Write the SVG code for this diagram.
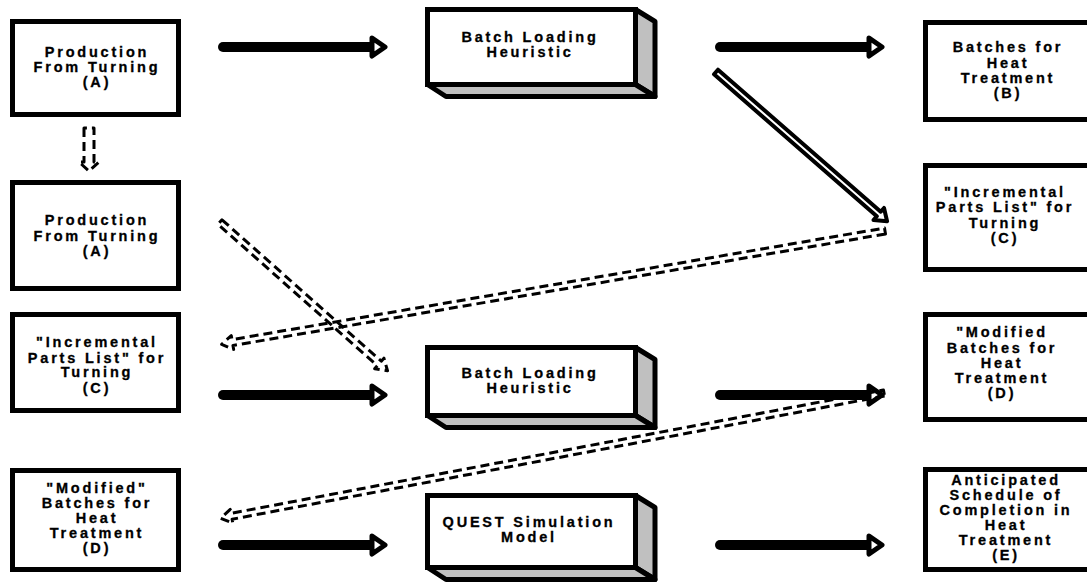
<svg xmlns="http://www.w3.org/2000/svg" width="1087" height="583" viewBox="0 0 1087 583">
  <style>
    .box { fill: #fff; stroke: #000; stroke-width: 5; }
    .side { fill: #c0c0c0; stroke: #000; stroke-width: 5; stroke-linejoin: round; }
    .lbl { font-family: "Liberation Sans", Arial, sans-serif; font-weight: bold; font-size: 14.5px; letter-spacing: 2.8px; text-anchor: middle; fill: #000; stroke: #000; stroke-width: 0.3px; }
    .shaft { stroke: #000; stroke-width: 10; stroke-linecap: round; fill: none; }
    .head { fill: #fff; stroke: #000; stroke-width: 5; stroke-linejoin: round; }
    .hollow { fill: #fff; stroke: #000; stroke-width: 4; stroke-linejoin: round; }
    .dash { fill: none; stroke: #000; stroke-width: 3; stroke-dasharray: 9 5; stroke-linejoin: round; }
  </style>

  <!-- left column -->
  <g id="prodA1">
    <rect class="box" x="12.5" y="21.5" width="166" height="93"/>
    <text class="lbl" x="97" y="57">Production</text>
    <text class="lbl" x="97" y="72">From Turning</text>
    <text class="lbl" x="97" y="87">(A)</text>
  </g>
  <g id="prodA2">
    <rect class="box" x="12.5" y="182.5" width="166" height="106"/>
    <text class="lbl" x="97" y="225">Production</text>
    <text class="lbl" x="97" y="241">From Turning</text>
    <text class="lbl" x="97" y="256">(A)</text>
  </g>
  <g id="partsC1">
    <rect class="box" x="12.5" y="314.5" width="166" height="96"/>
    <text class="lbl" x="97" y="347">"Incremental</text>
    <text class="lbl" x="97" y="363">Parts List" for</text>
    <text class="lbl" x="97" y="377">Turning</text>
    <text class="lbl" x="97" y="393">(C)</text>
  </g>
  <g id="batchesD1">
    <rect class="box" x="12.5" y="470.5" width="166" height="99"/>
    <text class="lbl" x="97" y="493">"Modified"</text>
    <text class="lbl" x="97" y="508">Batches for</text>
    <text class="lbl" x="97" y="523">Heat</text>
    <text class="lbl" x="97" y="538">Treatment</text>
    <text class="lbl" x="97" y="553">(D)</text>
  </g>

  <!-- middle column: 3D process blocks -->
  <g id="heuristic1">
    <polygon class="side" points="635.5,9.5 655,21.5 655,96.5 635.5,84.5"/>
    <polygon class="side" points="427.5,84.5 446,96.5 655,96.5 635.5,84.5"/>
    <rect class="box" x="427.5" y="9.5" width="208" height="75"/>
    <text class="lbl" x="530" y="42">Batch Loading</text>
    <text class="lbl" x="530" y="57">Heuristic</text>
  </g>
  <g id="heuristic2">
    <polygon class="side" points="635.5,347.5 655,359.5 655,427.5 635.5,415.5"/>
    <polygon class="side" points="427.5,415.5 446,427.5 655,427.5 635.5,415.5"/>
    <rect class="box" x="427.5" y="347.5" width="208" height="68"/>
    <text class="lbl" x="530" y="378">Batch Loading</text>
    <text class="lbl" x="530" y="393">Heuristic</text>
  </g>
  <g id="quest">
    <polygon class="side" points="635.5,495.5 655,507.5 655,579.5 635.5,567.5"/>
    <polygon class="side" points="427.5,567.5 446,579.5 655,579.5 635.5,567.5"/>
    <rect class="box" x="427.5" y="495.5" width="208" height="72"/>
    <text class="lbl" x="529" y="527">QUEST Simulation</text>
    <text class="lbl" x="529" y="542">Model</text>
  </g>

  <!-- right column -->
  <g id="batchesB">
    <rect class="box" x="925.5" y="22.5" width="166" height="97"/>
    <text class="lbl" x="1008" y="52">Batches for</text>
    <text class="lbl" x="1008" y="68">Heat</text>
    <text class="lbl" x="1008" y="83">Treatment</text>
    <text class="lbl" x="1008" y="98">(B)</text>
  </g>
  <g id="partsC2">
    <rect class="box" x="925.5" y="165.5" width="166" height="104"/>
    <text class="lbl" x="1005" y="197">"Incremental</text>
    <text class="lbl" x="1005" y="212">Parts List" for</text>
    <text class="lbl" x="1005" y="228">Turning</text>
    <text class="lbl" x="1005" y="243">(C)</text>
  </g>
  <g id="batchesD2">
    <rect class="box" x="925.5" y="314.5" width="166" height="105"/>
    <text class="lbl" x="1002" y="337">"Modified</text>
    <text class="lbl" x="1002" y="353">Batches for</text>
    <text class="lbl" x="1002" y="368">Heat</text>
    <text class="lbl" x="1002" y="383">Treatment</text>
    <text class="lbl" x="1002" y="398">(D)</text>
  </g>
  <g id="scheduleE">
    <rect class="box" x="925.5" y="469.5" width="166" height="100"/>
    <text class="lbl" x="1006" y="485">Anticipated</text>
    <text class="lbl" x="1006" y="500">Schedule of</text>
    <text class="lbl" x="1006" y="515">Completion in</text>
    <text class="lbl" x="1006" y="530">Heat</text>
    <text class="lbl" x="1006" y="545">Treatment</text>
    <text class="lbl" x="1006" y="560">(E)</text>
  </g>

  <!-- connectors -->
  <g id="connectors">
    <!-- solid flow arrows -->
    <line class="shaft" x1="223" y1="47" x2="374" y2="47"/>
    <polygon class="head" points="372,38 385,47 372,56"/>
    <line class="shaft" x1="720" y1="47" x2="871" y2="47"/>
    <polygon class="head" points="869,38 882,47 869,56"/>
    <line class="shaft" x1="223" y1="395" x2="374" y2="395"/>
    <polygon class="head" points="372,386 385,395 372,404"/>
    <line class="shaft" x1="720" y1="395" x2="871" y2="395"/>
    <polygon class="head" points="869,386 882,395 869,404"/>
    <line class="shaft" x1="223" y1="545" x2="374" y2="545"/>
    <polygon class="head" points="372,536 385,545 372,554"/>
    <line class="shaft" x1="720" y1="545" x2="871" y2="545"/>
    <polygon class="head" points="869,536 882,545 869,554"/>

    <!-- hollow diagonal arrow: heuristic to incremental parts list -->
    <path class="hollow" transform="translate(716,72) rotate(41.1)" d="M0,-3 L216,-3 L216,-8 L227,0 L216,8 L216,3 L0,3 Z"/>

    <!-- dashed feedback arrows -->
    <path class="dash" transform="translate(89,128)" d="M-5,0 L-5,34 L-10,34 L0,43 L10,34 L5,34 L5,0 Z"/>
    <path class="dash" transform="translate(220,222) rotate(41.6)" d="M0,-3 L213,-3 L213,-7 L224,0 L213,7 L213,3 L0,3 Z"/>
    <path class="dash" transform="translate(885,231) rotate(170.3)" d="M0,-3 L662,-3 L662,-7 L673,0 L662,7 L662,3 L0,3 Z"/>
    <path class="dash" transform="translate(884,393) rotate(169.3)" d="M0,-3 L664,-3 L664,-7 L675,0 L664,7 L664,3 L0,3 Z"/>
  </g>
</svg>
